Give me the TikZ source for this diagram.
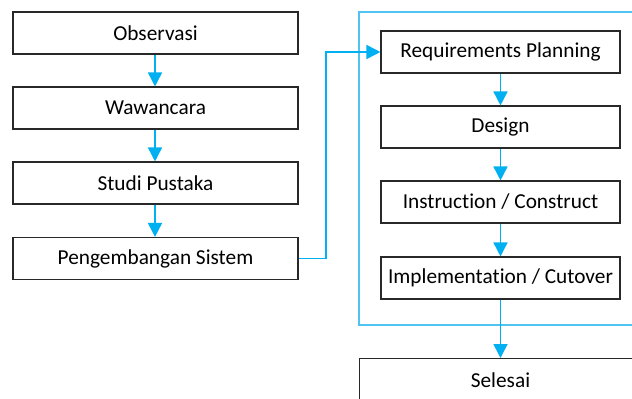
\documentclass[tikz,border=0pt]{standalone}
\usepackage{fontspec}
\setmainfont[Ligatures=NoCommon]{Carlito}
\usetikzlibrary{arrows.meta}
\definecolor{flowblue}{RGB}{0,176,240}
\definecolor{framblue}{RGB}{80,196,240}
\definecolor{boxline}{RGB}{40,40,40}
\begin{document}
\begin{tikzpicture}[x=1pt,y=-1pt,
  stepbox/.style={draw=boxline,line width=1.1pt,minimum height=42pt,inner sep=0pt,
    font=\fontsize{21.3}{25}\selectfont},
  leftbox/.style={stepbox,minimum width=285pt},
  rightbox/.style={stepbox,minimum width=239pt},
  flow/.style={draw=flowblue,line width=1.6pt,-{Triangle[length=14pt,width=14pt]}}]
\useasboundingbox (0,0) rectangle (632,399);
\clip (0,0) rectangle (632,399);
\fill[white] (0,0) rectangle (632,399);

% research steps
\node[leftbox] (obs) at (155.5,33) {Observasi};
\node[leftbox] (waw) at (155.5,108) {Wawancara};
\node[leftbox] (stu) at (155.5,183) {Studi Pustaka};
\node[leftbox] (pen) at (155.5,258.5) {Pengembangan Sistem};

% RAD phases inside the frame
\draw[framblue,line width=1.3pt] (359,12) rectangle (650,325);
\node[rightbox] (req) at (500.5,52) {Requirements Planning};
\node[rightbox] (des) at (500.5,127) {Design};
\node[rightbox] (ins) at (500.5,202) {Instruction / Construct};
\node[rightbox] (imp) at (500.5,278) {Implementation / Cutover};

% final step
\node[stepbox,minimum width=291pt,anchor=north west] (sel) at (359,358) {};
\node[font=\fontsize{21.3}{25}\selectfont] at (500.5,380) {Selesai};

% connectors
\draw[flow] (obs.south -| 155,0) -- (waw.north -| 155,0);
\draw[flow] (waw.south -| 155,0) -- (stu.north -| 155,0);
\draw[flow] (stu.south -| 155,0) -- (pen.north -| 155,0);
\draw[flow] (pen.east) -- (326,258.5) -- (326,52) -- (req.west);
\draw[flow] (req.south) -- (des.north);
\draw[flow] (des.south) -- (ins.north);
\draw[flow] (ins.south) -- (imp.north);
\draw[flow] (imp.south) -- (500.5,358);
\end{tikzpicture}
\end{document}
